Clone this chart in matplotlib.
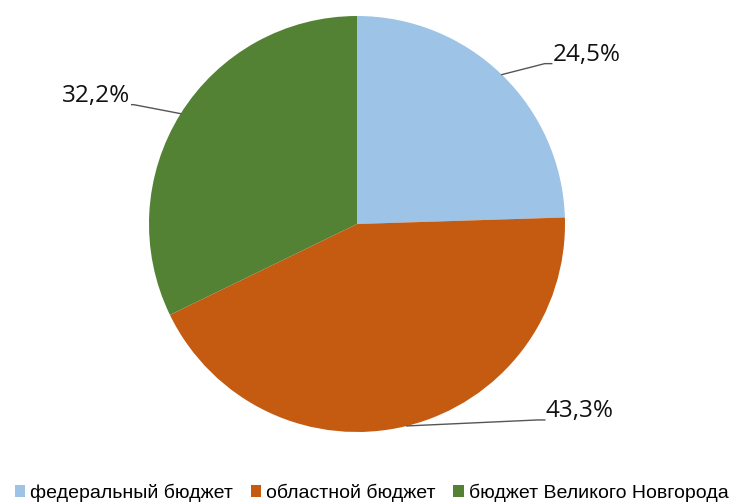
import numpy as np
import matplotlib
matplotlib.use("Agg")
import matplotlib.pyplot as plt
from matplotlib.patches import Patch

labels = ["федеральный бюджет", "областной бюджет", "бюджет Великого Новгорода"]
shares = [24.5, 43.3, 32.2]
colors = ["#9DC3E6", "#C55A11", "#548235"]
pct_labels = ["24,5%", "43,3%", "32,2%"]

W, H = 736, 504
fig = plt.figure(figsize=(W / 100, H / 100), dpi=100)
ax = fig.add_axes([0, 0, 1, 1])

cx, cy, r = 357, H - 224, 208
wedges, _ = ax.pie(shares, colors=colors, startangle=90, counterclock=False,
                   center=(cx, cy), radius=r, frame=True)
ax.set_xlim(0, W)
ax.set_ylim(0, H)
ax.set_aspect("equal")
ax.axis("off")

# leader line offsets (elbow relative to edge point) and text side
offsets = [(43, 11), (131, 6), (-47, 9)]
sides = ["left", "left", "right"]
for w, txt, (dx, dy), side in zip(wedges, pct_labels, offsets, sides):
    ang = np.deg2rad((w.theta1 + w.theta2) / 2)
    x0 = cx + r * np.cos(ang)
    y0 = cy + r * np.sin(ang)
    x1, y1 = x0 + dx, y0 + dy
    x2 = x1 + (7 if side == "left" else -2)
    ax.plot([x0, x1, x2], [y0, y1, y1], color="#555555", lw=1)
    ax.text(x2 + (1 if side == "left" else -1), y1 + 9, txt, ha=side, va="center",
            fontsize=17.5, family="Open Sans", color="#111111")

handles = [Patch(facecolor=c, edgecolor="none") for c in colors]
fig.legend(handles, labels, loc="center", bbox_to_anchor=(0.505, (H - 493) / H),
           ncol=3, frameon=False, prop={"family": "Liberation Sans", "size": 14},
           handlelength=0.55, handleheight=0.55, handletextpad=0.25, columnspacing=0.9,
           borderaxespad=0)

fig.savefig("out.png", dpi=100)
